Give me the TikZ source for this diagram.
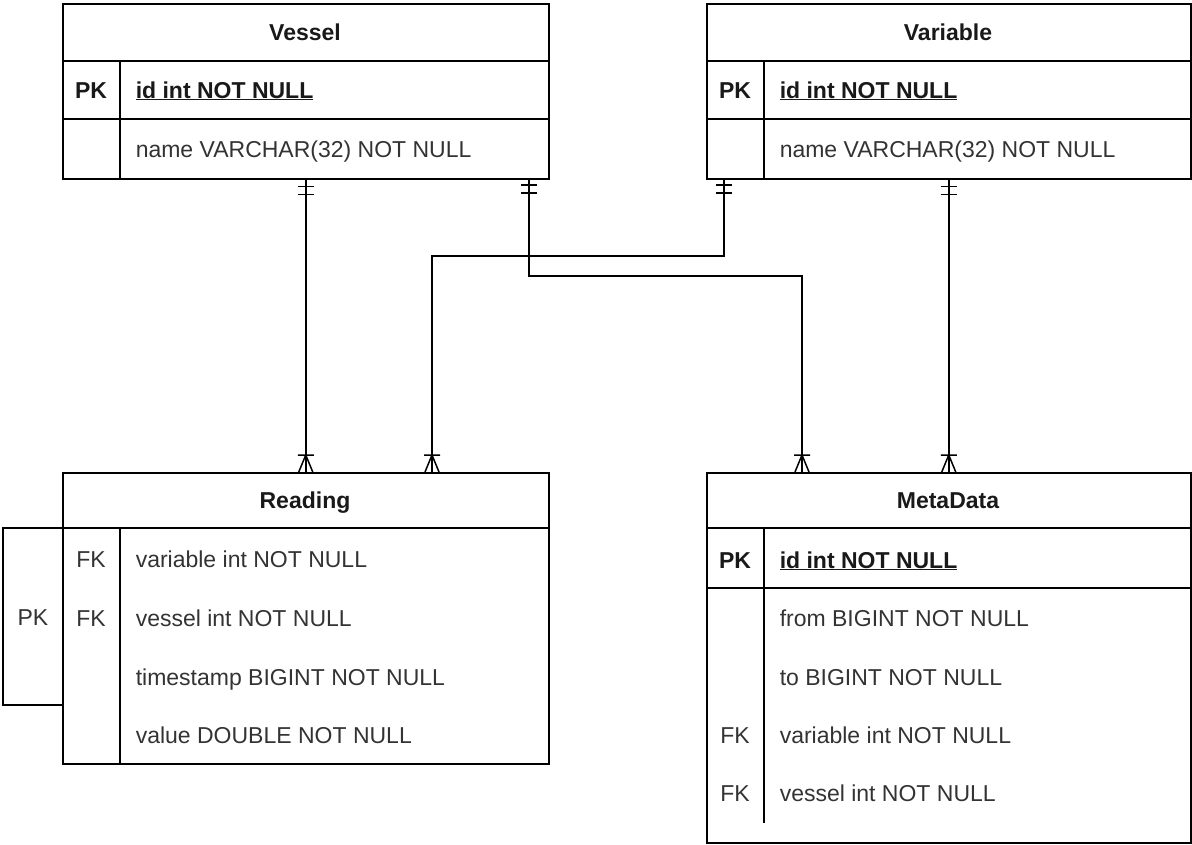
\documentclass[tikz,border=0pt]{standalone}
\usepackage{fontspec}
\setmainfont{Liberation Sans}
\begin{document}
\begin{tikzpicture}[x=1pt,y=-1pt,
  line width=1.5pt,
  tbl/.style={draw, rectangle, anchor=north west, inner sep=0pt},
  txt/.style={inner xsep=0pt, inner ysep=2pt, text height=16.5pt, text depth=0.5pt},
  ttl/.style={txt, font=\fontsize{23}{27}\selectfont\bfseries, text=black!90},
  keyb/.style={txt, font=\fontsize{23}{27}\selectfont\bfseries, text=black!90},
  keyr/.style={txt, font=\fontsize{23}{27}\selectfont, text=black!80},
  fldb/.style={txt, anchor=west, font=\fontsize{23}{27}\selectfont\bfseries, text=black!90},
  fld/.style={txt, anchor=west, font=\fontsize{23}{27}\selectfont, text=black!80},
  conn/.style={line width=1.5pt},
  mandone/.pic={\draw[line width=1.5pt] (-8,7) -- (8,7) (-8,15) -- (8,15);},
  onemany/.pic={\draw[line width=1.5pt] (-8,-17) -- (8,-17) (-7,0) -- (0,-17) -- (7,0);}
]
\useasboundingbox (0,0) rectangle (1192,844);

% ---------- Vessel ----------
\node[tbl, minimum width=486pt, minimum height=175pt] (vessel) at (62,3) {};
\draw (62,61) -- (548,61) (62,119) -- (548,119) (120,61) -- (120,178);
\node[ttl] (vesselT) at (305,32) {Vessel};
\node[keyb] (vesselK1) at (91,90) {PK};
\node[fldb] (vesselF1) at (135,90) {\underline{id int NOT NULL}};
\node[fld] (vesselF2) at (135,149) {name VARCHAR(32) NOT NULL};

% ---------- Variable ----------
\node[tbl, minimum width=484pt, minimum height=175pt] (variable) at (706,3) {};
\draw (706,61) -- (1190,61) (706,119) -- (1190,119) (764,61) -- (764,178);
\node[ttl] (variableT) at (948,32) {Variable};
\node[keyb] (variableK1) at (735,90) {PK};
\node[fldb] (variableF1) at (779,90) {\underline{id int NOT NULL}};
\node[fld] (variableF2) at (779,149) {name VARCHAR(32) NOT NULL};

% ---------- Reading ----------
\node[tbl, minimum width=486pt, minimum height=291pt] (reading) at (62,472) {};
\draw (62,528) -- (548,528) (120,528) -- (120,763);
\draw (62,528) -- (3,528) -- (3,705) -- (62,705);
\node[ttl] (readingT) at (305,500) {Reading};
\node[keyr] (readingPK) at (33,617) {PK};
\node[keyr] (readingK1) at (91,559) {FK};
\node[keyr] (readingK2) at (91,618) {FK};
\node[fld] (readingF1) at (135,559) {variable int NOT NULL};
\node[fld] (readingF2) at (135,618) {vessel int NOT NULL};
\node[fld] (readingF3) at (135,677) {timestamp BIGINT NOT NULL};
\node[fld] (readingF4) at (135,735) {value DOUBLE NOT NULL};

% ---------- MetaData ----------
\node[tbl, minimum width=484pt, minimum height=370pt] (meta) at (706,472) {};
\draw (706,528) -- (1190,528) (706,588) -- (1190,588) (764,528) -- (764,823);
\node[ttl] (metaT) at (948,500) {MetaData};
\node[keyb] (metaK1) at (735,560) {PK};
\node[fldb] (metaF1) at (779,560) {\underline{id int NOT NULL}};
\node[fld] (metaF2) at (779,618) {from BIGINT NOT NULL};
\node[fld] (metaF3) at (779,677) {to BIGINT NOT NULL};
\node[keyr] (metaK4) at (735,735) {FK};
\node[fld] (metaF4) at (779,735) {variable int NOT NULL};
\node[keyr] (metaK5) at (735,793) {FK};
\node[fld] (metaF5) at (779,793) {vessel int NOT NULL};

% ---------- connector end points ----------
\coordinate (vesA) at (529,178);
\coordinate (varA) at (724,178);
\coordinate (readB) at (432,472);
\coordinate (metaA) at (802,472);

% ---------- relationships ----------
\draw[conn] (vessel.south) -- (reading.north);
\draw[conn] (vesA) |- (660,276) -| (metaA);
\draw[conn] (varA) |- (600,256) -| (readB);
\draw[conn] (variable.south) -- (meta.north);

% ---------- cardinality marks ----------
\pic at (vessel.south) {mandone};
\pic at (vesA) {mandone};
\pic at (varA) {mandone};
\pic at (variable.south) {mandone};
\pic at (reading.north) {onemany};
\pic at (readB) {onemany};
\pic at (metaA) {onemany};
\pic at (meta.north) {onemany};
\end{tikzpicture}
\end{document}
